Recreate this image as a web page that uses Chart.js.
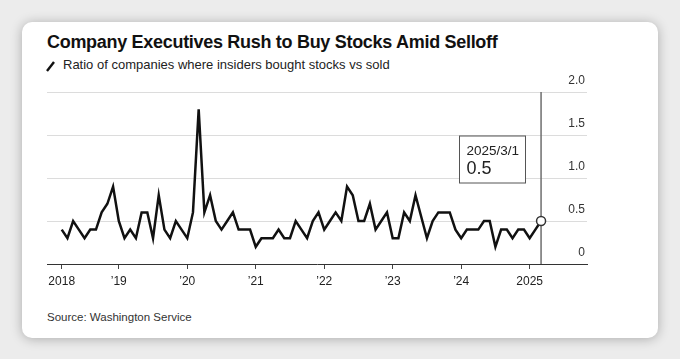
<!DOCTYPE html>
<html>
<head>
<meta charset="utf-8">
<script src="https://cdn.jsdelivr.net/npm/chart.js@4.4.1/dist/chart.umd.min.js"></script>
<style>
  html, body { margin: 0; padding: 0; }
  body { width: 680px; height: 359px; background: #ececec; position: relative; overflow: hidden;
         font-family: "Liberation Sans", Arial, sans-serif; }
  #card { position: absolute; left: 22px; top: 22px; width: 636px; height: 316px; background: #fff;
          border-radius: 10px; box-shadow: 0 1px 12px rgba(0,0,0,0.28); }
  #title { position: absolute; left: 47px; top: 33px; font-size: 18px; line-height: 18px; font-weight: bold;
           color: #111; letter-spacing: -0.3px; white-space: nowrap; }
  #subtitle { position: absolute; left: 63px; top: 58px; font-size: 13px; line-height: 13px; color: #222; white-space: nowrap; }
  #slash { position: absolute; left: 45px; top: 60px; }
  #source { position: absolute; left: 47px; top: 312px; font-size: 11.5px; line-height: 11.5px; color: #333; white-space: nowrap; }
  #c { position: absolute; left: 0; top: 0; }
</style>
</head>
<body>
<div id="card"></div>
<div id="title">Company Executives Rush to Buy Stocks Amid Selloff</div>
<svg id="slash" width="12" height="13"><line x1="2" y1="11" x2="9" y2="2" stroke="#111" stroke-width="2.4" stroke-linecap="butt"/></svg>
<div id="subtitle">Ratio of companies where insiders bought stocks vs sold</div>
<div id="source">Source: Washington Service</div>
<canvas id="c" width="680" height="359"></canvas>
<script>
// Monthly ratio, Mar 2018 .. Mar 2025 (index 0 = 2018-03)
const values = [
  0.4, 0.3, 0.5, 0.4, 0.3, 0.4, 0.4, 0.6, 0.7, 0.9,
  0.5, 0.3, 0.4, 0.3, 0.6, 0.6, 0.3, 0.8, 0.4, 0.3,
  0.5, 0.4, 0.3, 0.6, 1.8, 0.6, 0.8, 0.5, 0.4, 0.5,
  0.6, 0.4, 0.4, 0.4, 0.2, 0.3, 0.3, 0.3, 0.4, 0.3,
  0.3, 0.5, 0.4, 0.3, 0.5, 0.6, 0.4, 0.5, 0.6, 0.5,
  0.9, 0.8, 0.5, 0.5, 0.7, 0.4, 0.5, 0.6, 0.3, 0.3,
  0.6, 0.5, 0.8, 0.55, 0.3, 0.5, 0.6, 0.6, 0.6, 0.4,
  0.3, 0.4, 0.4, 0.4, 0.5, 0.5, 0.2, 0.4, 0.4, 0.3,
  0.4, 0.4, 0.3, 0.4, 0.5
];
// x tick positions (month index) and their labels
const xTickPos    = [0, 10, 22, 34, 46, 58, 70, 82];
const xTickLabels = ['2018', '\u201919', '\u201920', '\u201921', '\u201922', '\u201923', '\u201924', '2025'];
const yTickValues = [0, 0.5, 1.0, 1.5, 2.0];
const yTickLabels = ['0', '0.5', '1.0', '1.5', '2.0'];
const lastDateLabel = '2025/3/1';

const points = values.map((v, i) => ({ x: i, y: v }));
const lastIdx = values.length - 1;

const markerPlugin = {
  id: 'marker',
  beforeDatasetsDraw(chart) {
    const { ctx, chartArea, scales } = chart;
    const px = scales.x.getPixelForValue(lastIdx);
    ctx.save();
    ctx.strokeStyle = '#6e6e6e';
    ctx.lineWidth = 1.5;
    ctx.beginPath();
    ctx.moveTo(px, chartArea.top);
    ctx.lineTo(px, chartArea.bottom);
    ctx.stroke();
    ctx.restore();
  },
  afterDraw(chart) {
    const { ctx, scales } = chart;
    const px = scales.x.getPixelForValue(lastIdx);
    const top = scales.y.getPixelForValue(1.5) + 1;
    const left = Math.round(px - 82) + 0.5;
    const w = 66, h = 47;
    ctx.save();
    ctx.fillStyle = '#fff';
    ctx.fillRect(left, top, w, h);
    ctx.strokeStyle = '#555';
    ctx.lineWidth = 1;
    ctx.strokeRect(left, top, w, h);
    ctx.fillStyle = '#222';
    ctx.textBaseline = 'alphabetic';
    ctx.textAlign = 'left';
    ctx.font = '13.5px "Liberation Sans", Arial, sans-serif';
    ctx.fillText(lastDateLabel, left + 7, top + 18.5);
    ctx.font = '18px "Liberation Sans", Arial, sans-serif';
    ctx.fillText(String(values[lastIdx]), left + 7, top + 37.5);
    ctx.restore();
  }
};

new Chart(document.getElementById('c'), {
  type: 'line',
  data: {
    datasets: [{
      data: points,
      borderColor: '#111',
      borderWidth: 2.5,
      tension: 0,
      fill: false,
      pointRadius: ctx => ctx.dataIndex === lastIdx ? 4.5 : 0,
      pointHoverRadius: 0,
      pointBackgroundColor: '#fff',
      pointBorderColor: '#333',
      pointBorderWidth: 1.5
    }]
  },
  options: {
    responsive: false,
    animation: false,
    devicePixelRatio: 1,
    layout: { padding: { left: 47, right: 93, top: 92, bottom: 0 } },
    plugins: { legend: { display: false }, tooltip: { enabled: false }, title: { display: false } },
    events: [],
    scales: {
      x: {
        type: 'linear',
        min: -2.58,
        max: 92.05,
        afterBuildTicks(scale) { scale.ticks = xTickPos.map(v => ({ value: v })); },
        afterFit(scale) { scale.height = 95; },
        grid: { display: true, drawOnChartArea: false, drawTicks: true, tickLength: 5, color: '#444', lineWidth: 1 },
        border: { display: true, color: '#333', width: 1 },
        ticks: {
          autoSkip: false,
          maxRotation: 0,
          padding: 5,
          color: '#222',
          font: { family: '"Liberation Sans", Arial, sans-serif', size: 12 },
          callback: (v) => { const k = xTickPos.indexOf(v); return k >= 0 ? xTickLabels[k] : ''; }
        }
      },
      y: {
        position: 'right',
        min: 0,
        max: 2,
        afterBuildTicks(scale) { scale.ticks = yTickValues.map(v => ({ value: v })); },
        afterFit(scale) { scale.width = 0; },
        grid: {
          drawTicks: false,
          color: ctx => (ctx.tick && ctx.tick.value === 0) ? 'rgba(0,0,0,0)' : '#dcdcdc',
          lineWidth: 1
        },
        border: { display: false },
        ticks: {
          mirror: true,
          padding: -2,
          labelOffset: -11,
          color: '#333',
          font: { family: '"Liberation Sans", Arial, sans-serif', size: 12 },
          callback: (v) => { const k = yTickValues.indexOf(v); return k >= 0 ? yTickLabels[k] : ''; }
        }
      }
    }
  },
  plugins: [markerPlugin]
});
</script>
</body>
</html>
